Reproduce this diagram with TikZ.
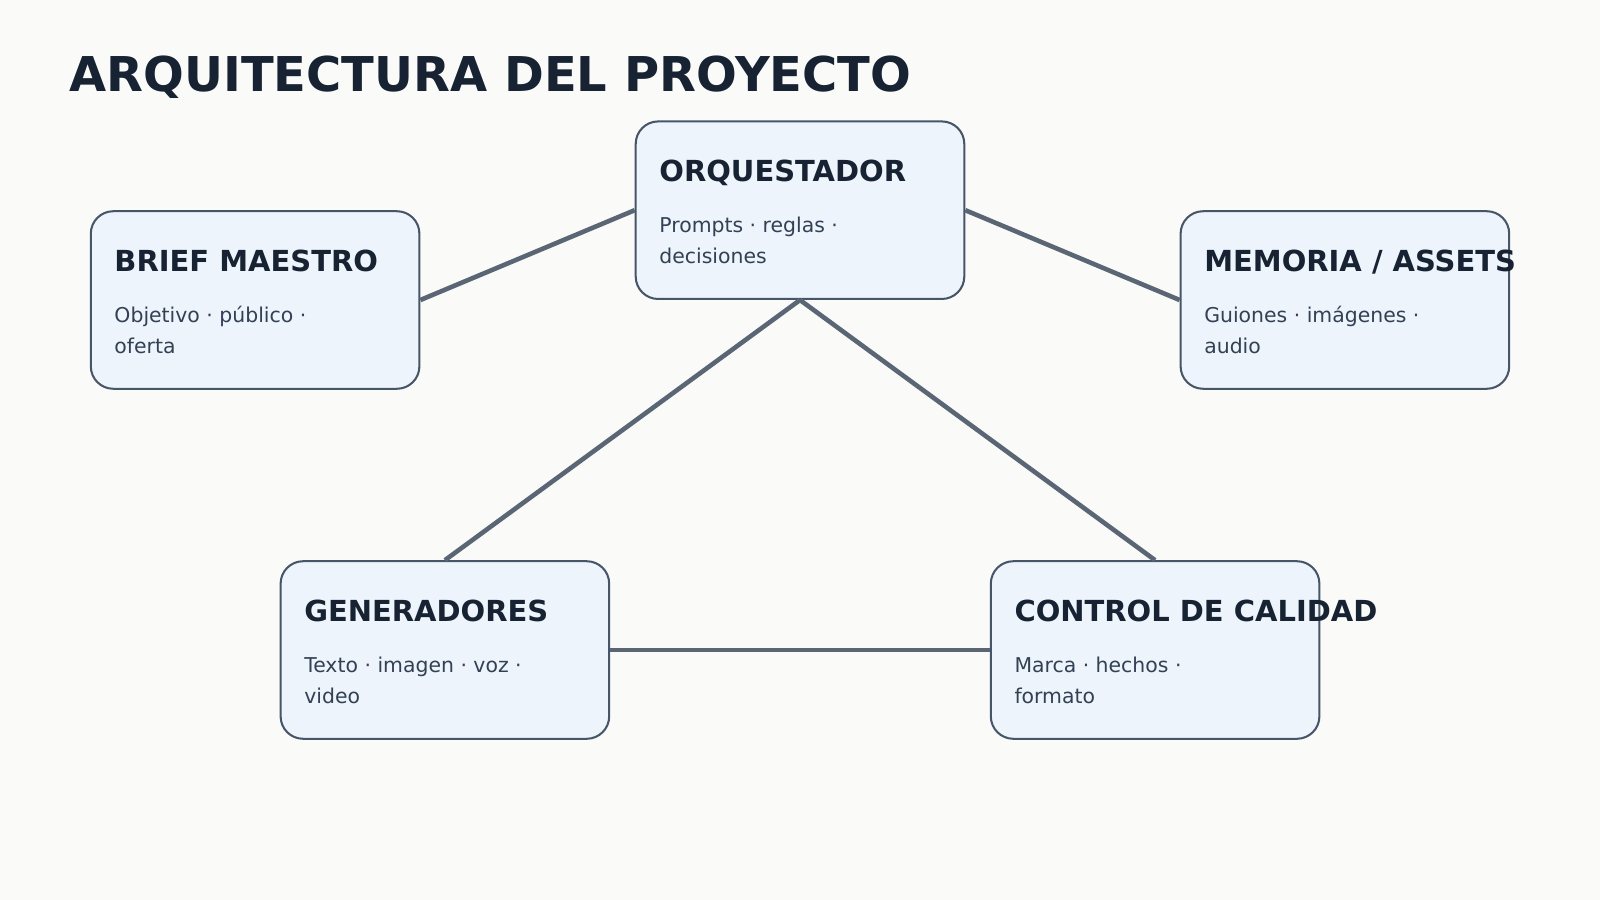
\documentclass[tikz,border=0pt]{standalone}
\usepackage{fontspec}
\setmainfont{DejaVu Sans}
\begin{document}
\begin{tikzpicture}[x=1pt,y=-1pt,
  box/.style={draw=boxline,line width=2pt,fill=boxfill,rounded corners=22pt,minimum width=322pt,minimum height=174pt,inner sep=0pt},
  ttl/.style={anchor=base west,inner sep=0pt,font=\bfseries\fontsize{28.4}{30}\selectfont,text=titlec},
  bdy/.style={anchor=base west,inner sep=0pt,font=\fontsize{20}{30}\selectfont,text=bodyc,align=left},
  conn/.style={draw=linec,line width=4.5pt}]
\definecolor{bg}{HTML}{FAFAF8}
\definecolor{boxfill}{HTML}{EDF4FB}
\definecolor{boxline}{HTML}{475569}
\definecolor{titlec}{HTML}{172232}
\definecolor{bodyc}{HTML}{334155}
\definecolor{linec}{HTML}{5B6675}
\fill[bg] (0,0) rectangle (1568,882);
\useasboundingbox (0,0) rectangle (1568,882);
\node[anchor=base west,inner sep=0pt,font=\bfseries\fontsize{47}{56}\selectfont,text=titlec] (title) at (68,90) {ARQUITECTURA DEL PROYECTO};
\node[box] (orq) at (784,206) {};
\node[box] (brief) at (250,294) {};
\node[box] (mem) at (1318,294) {};
\node[box] (gen) at (436,637) {};
\node[box] (qc) at (1132,637) {};
\draw[conn] (brief.east) -- (orq.west);
\draw[conn] (orq.east) -- (mem.west);
\draw[conn] (orq.south) -- (gen.north);
\draw[conn] (orq.south) -- (qc.north);
\draw[conn] (gen.east) -- (qc.west);
\foreach \n/\t/\a/\b in {orq/ORQUESTADOR/Prompts · reglas ·/decisiones,
  brief/BRIEF MAESTRO/Objetivo · público ·/oferta,
  mem/{MEMORIA / ASSETS}/Guiones · imágenes ·/audio,
  gen/GENERADORES/Texto · imagen · voz ·/video,
  qc/CONTROL DE CALIDAD/Marca · hechos ·/formato}{
  \node[ttl] (\n-t) at ([xshift=24pt,yshift=28pt]\n.west) {\t};
  \node[bdy] (\n-a) at ([xshift=24pt,yshift=-22pt]\n.west) {\a};
  \node[bdy] (\n-b) at ([xshift=24pt,yshift=-52pt]\n.west) {\b};
}
\end{tikzpicture}
\end{document}
